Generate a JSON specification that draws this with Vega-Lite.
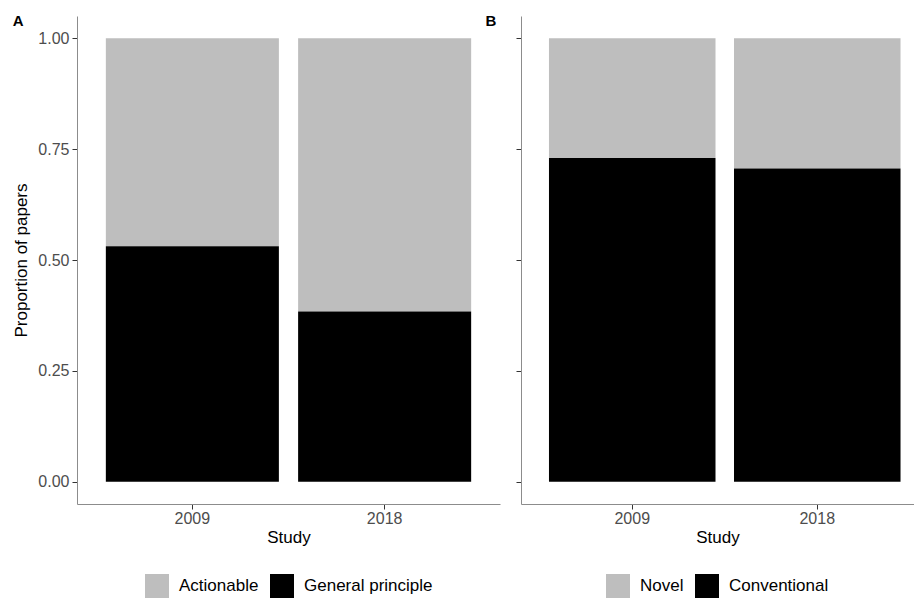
{
  "$schema": "https://vega.github.io/schema/vega-lite/v6.json",
  "padding": {"left": 12, "top": 14, "right": 1, "bottom": 0},
  "bounds": "flush",
  "spacing": 21,
  "datasets": {
    "a": [
      {"Study": "2009", "Type": "Actionable", "Proportion": 0.469},
      {"Study": "2009", "Type": "General principle", "Proportion": 0.531},
      {"Study": "2018", "Type": "Actionable", "Proportion": 0.616},
      {"Study": "2018", "Type": "General principle", "Proportion": 0.384}
    ],
    "b": [
      {"Study": "2009", "Type": "Novel", "Proportion": 0.270},
      {"Study": "2009", "Type": "Conventional", "Proportion": 0.730},
      {"Study": "2018", "Type": "Novel", "Proportion": 0.294},
      {"Study": "2018", "Type": "Conventional", "Proportion": 0.706}
    ]
  },
  "hconcat": [
    {
      "title": {"text": "A", "anchor": "start", "frame": "bounds", "offset": 0, "baseline": "alphabetic", "dy": 25, "fontSize": 15, "fontWeight": "bold", "font": "Liberation Sans", "color": "black"},
      "width": 423,
      "height": 488,
      "data": {"name": "a"},
      "mark": {"type": "bar"},
      "encoding": {
        "x": {"field": "Study", "type": "nominal", "scale": {"paddingInner": 0.1, "paddingOuter": 0.15}, "axis": {"title": "Study"}},
        "y": {"field": "Proportion", "type": "quantitative", "stack": "zero", "scale": {"domain": [-0.05, 1.05], "nice": false, "zero": false}, "axis": {"values": [0, 0.25, 0.5, 0.75, 1], "format": ".2f", "title": "Proportion of papers"}},
        "color": {"field": "Type", "type": "nominal", "scale": {"domain": ["Actionable", "General principle"], "range": ["#bebebe", "#000000"]}, "legend": {"title": null, "orient": "bottom", "direction": "horizontal"}},
        "order": {"field": "Type", "sort": "descending"}
      }
    },
    {
      "title": {"text": "B", "anchor": "start", "frame": "bounds", "offset": 0, "baseline": "alphabetic", "dy": 25, "dx": -30, "fontSize": 15, "fontWeight": "bold", "font": "Liberation Sans", "color": "black"},
      "width": 393,
      "height": 488,
      "data": {"name": "b"},
      "mark": {"type": "bar"},
      "encoding": {
        "x": {"field": "Study", "type": "nominal", "scale": {"paddingInner": 0.1, "paddingOuter": 0.112, "align": 0.675}, "axis": {"title": "Study"}},
        "y": {"field": "Proportion", "type": "quantitative", "stack": "zero", "scale": {"domain": [-0.05, 1.05], "nice": false, "zero": false}, "axis": {"values": [0, 0.25, 0.5, 0.75, 1], "labels": false, "title": null}},
        "color": {"field": "Type", "type": "nominal", "scale": {"domain": ["Novel", "Conventional"], "range": ["#bebebe", "#000000"]}, "legend": {"title": null, "orient": "bottom", "direction": "horizontal"}},
        "order": {"field": "Type", "sort": "ascending"}
      }
    }
  ],
  "resolve": {"scale": {"color": "independent"}, "legend": {"color": "independent"}},
  "config": {
    "view": {"stroke": null},
    "font": "Liberation Sans",
    "axis": {"domainColor": "#8c8c8c", "tickColor": "#333333", "tickSize": 5, "labelFont": "Liberation Sans", "labelFontSize": 16, "labelColor": "#4d4d4d", "titleFont": "Liberation Sans", "titleFontSize": 17, "titleColor": "black", "titleFontWeight": "normal", "grid": false, "labelPadding": 3},
    "axisX": {"labelAngle": 0, "titlePadding": 3, "labelPadding": 1},
    "axisY": {"titlePadding": 7},
    "legend": {"symbolType": "square", "symbolSize": 576, "symbolStrokeWidth": 0, "labelFont": "Liberation Sans", "labelFontSize": 17, "labelColor": "black", "labelOffset": 10, "columnPadding": 11, "offset": 29, "layout": {"bottom": {"anchor": "middle"}}}
  }
}
